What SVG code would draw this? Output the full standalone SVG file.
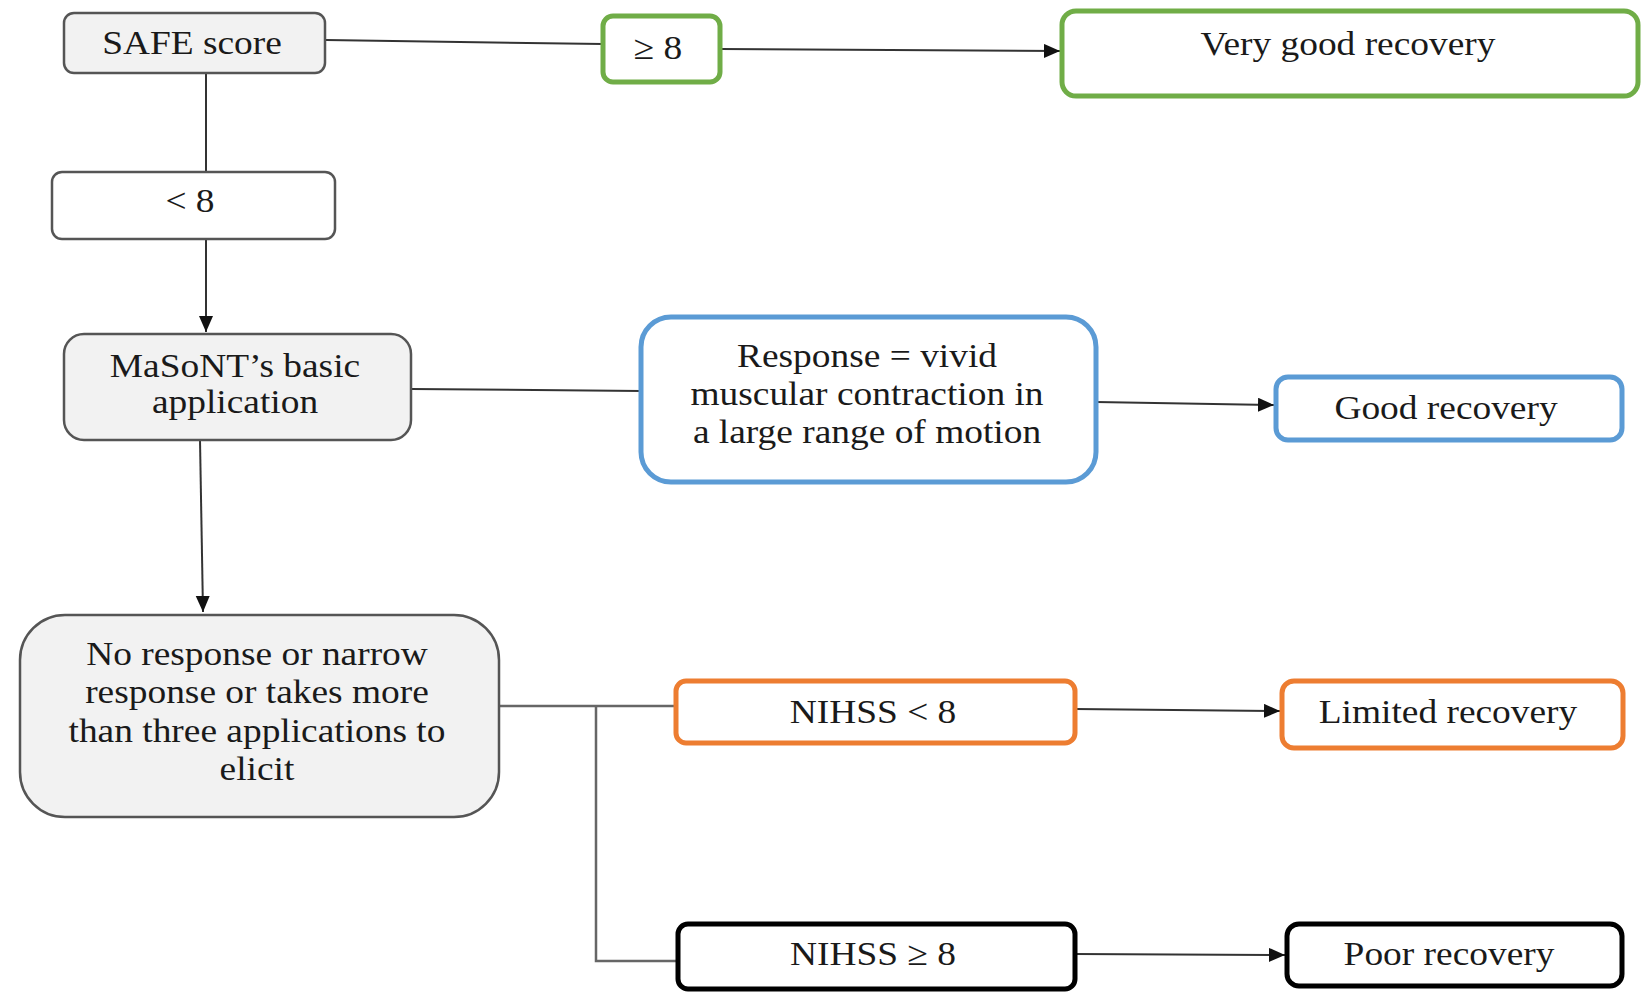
<svg xmlns="http://www.w3.org/2000/svg" width="1645" height="993" viewBox="0 0 1645 993">
<style>
.t{font-family:"Liberation Serif","Times New Roman",serif;font-size:34px;fill:#1a1a1a;text-anchor:middle}
.gray{fill:#f2f2f2;stroke:#555;stroke-width:2.5}
.plain{fill:#fff;stroke:#555;stroke-width:2.5}
.green{fill:#fff;stroke:#70ad47;stroke-width:5}
.blue{fill:#fff;stroke:#5b9bd5;stroke-width:5}
.orange{fill:#fff;stroke:#ed7d31;stroke-width:5}
.black{fill:#fff;stroke:#000;stroke-width:5}
.c{fill:none;stroke:#333;stroke-width:2}
.ca{fill:none;stroke:#333;stroke-width:2;marker-end:url(#arr)}
.cg{fill:none;stroke:#666;stroke-width:2.5}
</style>
<defs>
<marker id="arr" markerUnits="userSpaceOnUse" markerWidth="18" markerHeight="16" refX="16" refY="7" orient="auto">
<path d="M0,0 L16,7 L0,14 z" fill="#111"/>
</marker>
</defs>
<rect width="1645" height="993" fill="#fff"/>
<g id="connectors">
<path class="c" d="M326 40 L603 44"/>
<path class="ca" d="M720 49 L1060 51"/>
<path class="c" d="M206 73 L206 172"/>
<path class="ca" d="M206 239 L206 332"/>
<path class="c" d="M411 389 L641 391"/>
<path class="ca" d="M1096 402 L1274 405"/>
<path class="ca" d="M200 440 L203 612"/>
<path class="cg" d="M499 706 L676 706"/>
<path class="cg" d="M596 706 L596 961 L678 961"/>
<path class="ca" d="M1075 709 L1280 711"/>
<path class="ca" d="M1075 954 L1285 955"/>
</g>
<g id="safe">
<rect class="gray" x="64" y="13" width="261" height="60" rx="10"/>
<text class="t" transform="translate(192,54) scale(1.1,1)">SAFE score</text>
</g>
<g id="ge8">
<rect class="green" x="603" y="16" width="117" height="66" rx="10"/>
<text class="t" transform="translate(658,59) scale(1.1,1)">≥ 8</text>
</g>
<g id="verygood">
<rect class="green" x="1062" y="11" width="576" height="85" rx="14"/>
<text class="t" transform="translate(1348,55) scale(1.1,1)">Very good recovery</text>
</g>
<g id="lt8">
<rect class="plain" x="52" y="172" width="283" height="67" rx="10"/>
<text class="t" transform="translate(190,212) scale(1.1,1)">&lt; 8</text>
</g>
<g id="masont">
<rect class="gray" x="64" y="334" width="347" height="106" rx="20"/>
<text class="t" transform="translate(235,377) scale(1.1,1)"><tspan x="0" y="0">MaSoNT’s basic</tspan><tspan x="0" y="36">application</tspan></text>
</g>
<g id="response">
<rect class="blue" x="641" y="317" width="455" height="165" rx="30"/>
<text class="t" transform="translate(867,367) scale(1.1,1)"><tspan x="0" y="0">Response = vivid</tspan><tspan x="0" y="38">muscular contraction in</tspan><tspan x="0" y="76">a large range of motion</tspan></text>
</g>
<g id="good">
<rect class="blue" x="1276" y="377" width="346" height="63" rx="12"/>
<text class="t" transform="translate(1446,419) scale(1.1,1)">Good recovery</text>
</g>
<g id="noresponse">
<rect class="gray" x="20" y="615" width="479" height="202" rx="45"/>
<text class="t" transform="translate(257,665) scale(1.1,1)"><tspan x="0" y="0">No response or narrow</tspan><tspan x="0" y="38.5">response or takes more</tspan><tspan x="0" y="77">than three applications to</tspan><tspan x="0" y="115.5">elicit</tspan></text>
</g>
<g id="nihsslt8">
<rect class="orange" x="676" y="681" width="399" height="62" rx="10"/>
<text class="t" transform="translate(873,723) scale(1.1,1)">NIHSS &lt; 8</text>
</g>
<g id="limited">
<rect class="orange" x="1282" y="681" width="341" height="67" rx="12"/>
<text class="t" transform="translate(1448,723) scale(1.1,1)">Limited recovery</text>
</g>
<g id="nihssge8">
<rect class="black" x="678" y="924" width="397" height="65" rx="10"/>
<text class="t" transform="translate(873,965) scale(1.1,1)">NIHSS ≥ 8</text>
</g>
<g id="poor">
<rect class="black" x="1287" y="924" width="335" height="62" rx="12"/>
<text class="t" transform="translate(1449,965) scale(1.1,1)">Poor recovery</text>
</g>
</svg>
